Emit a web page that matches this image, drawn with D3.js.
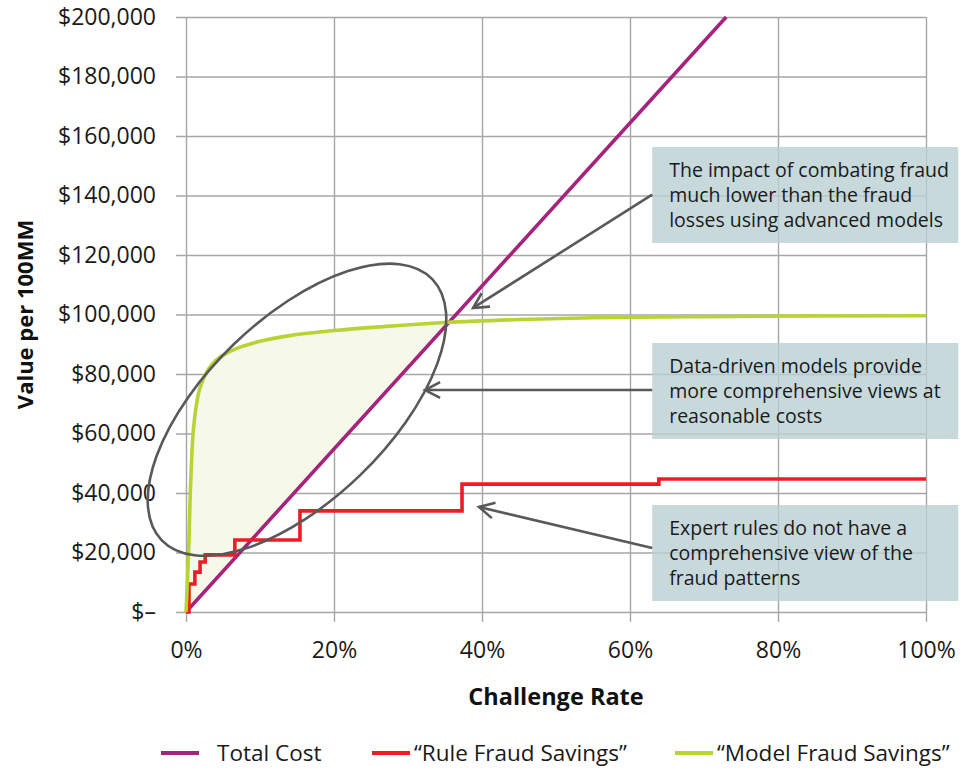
<!DOCTYPE html>
<html>
<head>
<meta charset="utf-8">
<script src="https://cdn.jsdelivr.net/npm/d3@7"></script>
<style>
  html, body { margin: 0; padding: 0; background: #fff; }
  svg { display: block; font-family: "Open Sans", sans-serif; }
</style>
</head>
<body>
<svg id="chart" width="962" height="770"></svg>
<script>
// Axis ticks
const xTicks = [0, 20, 40, 60, 80, 100];
const yTicks = [0, 20000, 40000, 60000, 80000, 100000, 120000, 140000, 160000, 180000, 200000];

// Total Cost: straight line from the origin
const costRate  = [0, 73];
const costValue = [0, 200000];

// "Rule Fraud Savings": step function
const ruleRate  = [0, 0.4, 1.2, 1.9, 2.6, 6.6, 15.4, 37.3, 63.9, 100];
const ruleValue = [0, 9400, 13400, 16800, 19200, 24200, 34000, 43000, 44700, 44700];

// "Model Fraud Savings": saturating curve
const modelRate  = [0, 0.15, 0.3, 0.4, 0.55, 0.7, 0.9, 1.2, 1.6, 2.2, 3, 4, 5.5, 7.5, 10, 14, 20, 27, 35, 45, 55, 70, 85, 100];
const modelValue = [0, 8000, 17000, 24000, 38000, 48000, 58000, 66000, 72500, 77500, 81500, 84500, 87000, 89200, 91000, 92900, 94600, 96000, 97300, 98300, 98900, 99300, 99500, 99600];

const seriesNames  = ["Total Cost", "\u201CRule Fraud Savings\u201D", "\u201CModel Fraud Savings\u201D"];
const seriesColors = ["#a6237b", "#ee1c25", "#b8d434"];

const annotations = [
  { lines: ["The impact of combating fraud", "much lower than the fraud", "losses using advanced models"],
    boxTop: 147, from: [63, 140300], tip: [38.8, 102200] },
  { lines: ["Data-driven models provide", "more comprehensive views at", "reasonable costs"],
    boxTop: 343, from: [63, 74600], tip: [32.3, 74600] },
  { lines: ["Expert rules do not have a", "comprehensive view of the", "fraud patterns"],
    boxTop: 505, from: [63, 21500], tip: [39.6, 35300] }
];

const svg = d3.select("#chart");
const margin = { left: 186, right: 36, top: 17, bottom: 158 };
const W = 962, H = 770;

const x = d3.scaleLinear().domain([0, 100]).range([margin.left, W - margin.right]);
const y = d3.scaleLinear().domain([0, 200000]).range([H - margin.bottom, margin.top]);

const gridColor = "#a6a6a6";

// Grid + axes
const xAxis = svg.append("g")
  .attr("transform", `translate(0,${y(0)})`)
  .call(d3.axisBottom(x).tickValues(xTicks).tickSize(-(y(0) - y(200000))).tickSizeOuter(0)
    .tickPadding(0).tickFormat(d => d + "%"));
xAxis.select(".domain").remove();
xAxis.selectAll(".tick line").attr("stroke", gridColor).attr("stroke-width", 1.4)
  .attr("y1", 10);
xAxis.selectAll(".tick text").attr("y", 30).attr("font-size", 23).attr("fill", "#1a1a1a")
  .attr("font-family", "Open Sans, sans-serif");

const yAxis = svg.append("g")
  .attr("transform", `translate(${x(0)},0)`)
  .call(d3.axisLeft(y).tickValues(yTicks).tickSize(-(x(100) - x(0))).tickSizeOuter(0)
    .tickFormat(v => v === 0 ? "$\u2013" : "$" + d3.format(",")(v)));
yAxis.select(".domain").remove();
yAxis.selectAll(".tick line").attr("stroke", gridColor).attr("stroke-width", 1.4)
  .attr("x1", -10);
yAxis.selectAll(".tick text").attr("x", -30).attr("font-size", 23).attr("fill", "#1a1a1a")
  .attr("font-family", "Open Sans, sans-serif");

// Shaded region where model savings exceed total cost
const costAt = r => costValue[0] + (costValue[1] - costValue[0]) * (r - costRate[0]) / (costRate[1] - costRate[0]);
const cross = 35.6;
const fillPts = modelRate.map((r, i) => [r, modelValue[i]]).filter(p => p[0] < cross);
fillPts.push([cross, costAt(cross)]);
svg.append("path")
  .datum(fillPts)
  .attr("fill", "#f6f9ea")
  .attr("d", d3.area().x(d => x(d[0])).y0(d => y(costAt(d[0]))).y1(d => y(Math.max(d[1], costAt(d[0])))).curve(d3.curveMonotoneX));

// Series lines
const plot = svg.append("g");
plot.append("path")
  .datum(costRate.map((r, i) => [r, costValue[i]]))
  .attr("fill", "none").attr("stroke", seriesColors[0]).attr("stroke-width", 3.6)
  .attr("d", d3.line().x(d => x(d[0])).y(d => y(d[1])));
plot.append("path")
  .datum(ruleRate.map((r, i) => [r, ruleValue[i]]))
  .attr("fill", "none").attr("stroke", seriesColors[1]).attr("stroke-width", 3.6)
  .attr("d", d3.line().x(d => x(d[0])).y(d => y(d[1])).curve(d3.curveStepAfter));
plot.append("path")
  .datum(modelRate.map((r, i) => [r, modelValue[i]]))
  .attr("fill", "none").attr("stroke", seriesColors[2]).attr("stroke-width", 3.6)
  .attr("d", d3.line().x(d => x(d[0])).y(d => y(d[1])).curve(d3.curveMonotoneX));

// Highlight ellipse around the region of interest
const ell = { cx: 15.0, cy: 68000 };
svg.append("ellipse")
  .attr("cx", x(ell.cx)).attr("cy", y(ell.cy))
  .attr("rx", 188).attr("ry", 91)
  .attr("transform", `rotate(-44,${x(ell.cx)},${y(ell.cy)})`)
  .attr("fill", "none").attr("stroke", "#595959").attr("stroke-width", 2.6);

// Annotation boxes
const boxX = x(63), boxW = 306, boxH = 96;
annotations.forEach(a => {
  const g = svg.append("g");
  g.append("rect").attr("x", boxX).attr("y", a.boxTop).attr("width", boxW).attr("height", boxH)
    .attr("fill", "rgb(186,207,211)").attr("fill-opacity", 0.8);
  a.lines.forEach((t, i) => {
    g.append("text").attr("x", boxX + 17).attr("y", a.boxTop + 30 + i * 25)
      .attr("font-size", 19.5).attr("fill", "#1a1a1a").text(t);
  });
});

// Arrows
annotations.forEach(a => {
  const x1 = x(a.from[0]), y1 = y(a.from[1]), x2 = x(a.tip[0]), y2 = y(a.tip[1]);
  const ang = Math.atan2(y1 - y2, x1 - x2);
  const len = 17, spread = Math.PI / 6.5;
  const g = svg.append("g").attr("stroke", "#595959").attr("stroke-width", 2.6).attr("fill", "none");
  g.append("line").attr("x1", x1).attr("y1", y1).attr("x2", x2).attr("y2", y2);
  g.append("path").attr("d",
    `M${x2 + len * Math.cos(ang + spread)},${y2 + len * Math.sin(ang + spread)}L${x2},${y2}L${x2 + len * Math.cos(ang - spread)},${y2 + len * Math.sin(ang - spread)}`);
});

// Axis titles
svg.append("text").attr("x", (x(0) + x(100)) / 2).attr("y", 705).attr("text-anchor", "middle")
  .attr("font-size", 23.5).attr("font-weight", "bold").attr("fill", "#111").text("Challenge Rate");
svg.append("text").attr("transform", `translate(33,${(y(0) + y(200000)) / 2}) rotate(-90)`)
  .attr("text-anchor", "middle").attr("font-size", 22).attr("font-weight", "bold").attr("fill", "#111")
  .text("Value per 100MM");

// Legend
const legendX = [161, 372, 675];
const legend = svg.append("g");
seriesNames.forEach((n, i) => {
  legend.append("line").attr("x1", legendX[i]).attr("x2", legendX[i] + 38)
    .attr("y1", 753).attr("y2", 753).attr("stroke", seriesColors[i]).attr("stroke-width", 4);
  legend.append("text").attr("x", legendX[i] + (i === 0 ? 56 : 42)).attr("y", 761)
    .attr("font-size", 22.5).attr("fill", "#1a1a1a").text(n);
});
</script>
</body>
</html>
